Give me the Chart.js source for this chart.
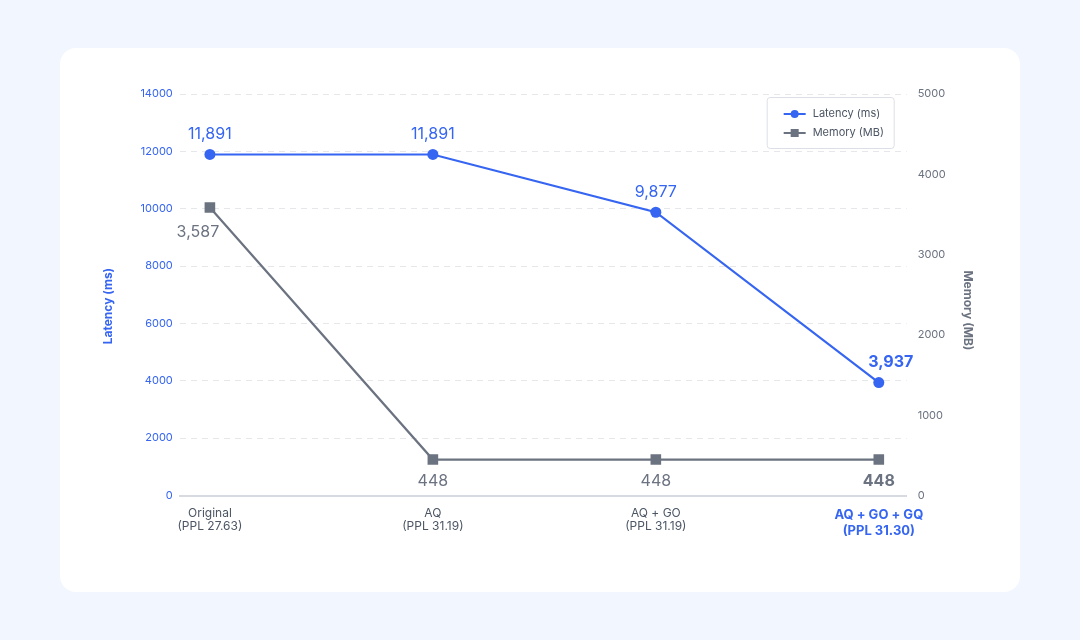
<!DOCTYPE html>
<html>
<head>
<meta charset="utf-8">
<script src="https://cdn.jsdelivr.net/npm/chart.js@4"></script>
<style>
  html, body { margin: 0; padding: 0; background: #f2f6fe; }
  body { width: 1080px; height: 640px; position: relative; font-family: Inter, sans-serif; }
  .card { position: absolute; left: 60px; top: 48px; width: 960px; height: 544px; background: #fff; border-radius: 16px; }
  canvas { display: block; }
</style>
</head>
<body>
<div class="card"><canvas id="chart" width="960" height="544"></canvas></div>
<script>
const stages = [
  ['Original', '(PPL 27.63)'],
  ['AQ', '(PPL 31.19)'],
  ['AQ + GO', '(PPL 31.19)'],
  ['AQ + GO + GQ', '(PPL 31.30)']
];
const latencyMs = [11891, 11891, 9877, 3937];
const memoryMb = [3587, 448, 448, 448];
const latencyTicks = [0, 2000, 4000, 6000, 8000, 10000, 12000, 14000];
const memoryTicks = [0, 1000, 2000, 3000, 4000, 5000];

const BLUE = '#3565f1';
const GREY = '#6b7280';
const last = stages.length - 1;
const fmt = v => v.toLocaleString('en-US');

// value labels next to each point
const valueLabels = {
  id: 'valueLabels',
  afterDatasetsDraw(chart) {
    const ctx = chart.ctx;
    ctx.save();
    ctx.textAlign = 'center';
    ctx.textBaseline = 'middle';
    chart.getDatasetMeta(0).data.forEach((pt, i) => {
      const isLast = i === last;
      ctx.font = (isLast ? 'bold ' : '') + '16px Inter';
      ctx.fillStyle = BLUE;
      ctx.fillText(fmt(latencyMs[i]), pt.x + (isLast ? 12 : 0), pt.y - 20);
    });
    chart.getDatasetMeta(1).data.forEach((pt, i) => {
      const isLast = i === last;
      ctx.font = (isLast ? 'bold ' : '') + '16px Inter';
      ctx.fillStyle = GREY;
      if (i === 0) ctx.fillText(fmt(memoryMb[i]), pt.x - 12, pt.y + 25);
      else ctx.fillText(fmt(memoryMb[i]), pt.x, pt.y + 22);
    });
    ctx.restore();
  }
};

// boxed legend with line + marker
const boxLegend = {
  id: 'boxLegend',
  afterDraw(chart) {
    const ctx = chart.ctx;
    const a = chart.chartArea;
    const w = 127, h = 51;
    const x = a.right - 13 - w, y = a.top + 3;
    ctx.save();
    ctx.fillStyle = '#fff';
    ctx.strokeStyle = '#dcdfe5';
    ctx.lineWidth = 1;
    ctx.beginPath();
    ctx.roundRect(x + 0.5, y + 0.5, w, h, 3);
    ctx.fill();
    ctx.stroke();
    const items = [
      { text: 'Latency (ms)', color: BLUE, style: 'circle' },
      { text: 'Memory (MB)', color: GREY, style: 'rect' }
    ];
    ctx.font = '11px Inter';
    ctx.textBaseline = 'middle';
    items.forEach((it, k) => {
      const cy = y + 17 + k * 19;
      const lx = x + 17;
      ctx.strokeStyle = it.color;
      ctx.lineWidth = 2;
      ctx.beginPath();
      ctx.moveTo(lx, cy);
      ctx.lineTo(lx + 22, cy);
      ctx.stroke();
      ctx.fillStyle = it.color;
      if (it.style === 'circle') {
        ctx.beginPath();
        ctx.arc(lx + 11, cy, 4, 0, Math.PI * 2);
        ctx.fill();
      } else {
        ctx.fillRect(lx + 7, cy - 4, 8, 8);
      }
      ctx.fillStyle = '#4b5563';
      ctx.fillText(it.text, lx + 29, cy);
    });
    ctx.restore();
  }
};

const ctx = document.getElementById('chart').getContext('2d');
new Chart(ctx, {
  type: 'line',
  data: {
    datasets: [
      {
        label: 'Latency (ms)',
        data: latencyMs.map((v, i) => ({ x: i, y: v })),
        yAxisID: 'y',
        borderColor: BLUE,
        backgroundColor: BLUE,
        borderWidth: 2.2,
        pointStyle: 'circle',
        pointRadius: 5.5,
        pointBorderWidth: 0,
        pointHoverRadius: 5.5
      },
      {
        label: 'Memory (MB)',
        data: memoryMb.map((v, i) => ({ x: i, y: v })),
        yAxisID: 'y1',
        borderColor: GREY,
        backgroundColor: GREY,
        borderWidth: 2.2,
        pointStyle: 'rect',
        pointRadius: 7.5,
        pointBorderWidth: 0,
        pointHoverRadius: 7.5
      }
    ]
  },
  options: {
    responsive: false,
    animation: false,
    layout: { padding: { left: 37, right: 13, top: 46, bottom: 50 } },
    plugins: {
      legend: { display: false },
      tooltip: { enabled: false }
    },
    scales: {
      x: {
        type: 'linear',
        min: -0.135,
        max: 3.125,
        afterBuildTicks: axis => { axis.ticks = stages.map((s, i) => ({ value: i })); },
        afterFit: axis => { axis.paddingLeft = 0; axis.paddingRight = 0; },
        grid: { display: false },
        border: { display: true, color: '#d7dae0', width: 2 },
        ticks: {
          padding: 3,
          callback: v => stages[v],
          color: c => c.index === last ? BLUE : '#4b5563',
          font: c => c.index === last
            ? { family: 'Inter', size: 13, weight: 'bold', lineHeight: 1.25 }
            : { family: 'Inter', size: 12, lineHeight: 1.1 }
        }
      },
      y: {
        position: 'left',
        min: 0,
        max: 14000,
        afterBuildTicks: axis => { axis.ticks = latencyTicks.map(v => ({ value: v })); },
        grid: { color: '#e5e7eb', drawTicks: false },
        border: { display: false, dash: [6, 5] },
        ticks: { color: BLUE, padding: 7, font: { family: 'Inter', size: 11 }, callback: v => String(v) },
        title: { display: true, text: 'Latency (ms)        ', color: BLUE, font: { family: 'Inter', size: 12, weight: 'bold' }, padding: { top: 4, bottom: 18 } }
      },
      y1: {
        position: 'right',
        min: 0,
        max: 5000,
        afterBuildTicks: axis => { axis.ticks = memoryTicks.map(v => ({ value: v })); },
        grid: { drawOnChartArea: false, drawTicks: false },
        border: { display: false },
        ticks: { color: GREY, padding: 11, font: { family: 'Inter', size: 11 }, callback: v => String(v) },
        title: { display: true, text: '           Memory (MB)', color: GREY, font: { family: 'Inter', size: 12, weight: 'bold' }, padding: { top: 32, bottom: 4 } }
      }
    }
  },
  plugins: [valueLabels, boxLegend]
});
</script>
</body>
</html>
